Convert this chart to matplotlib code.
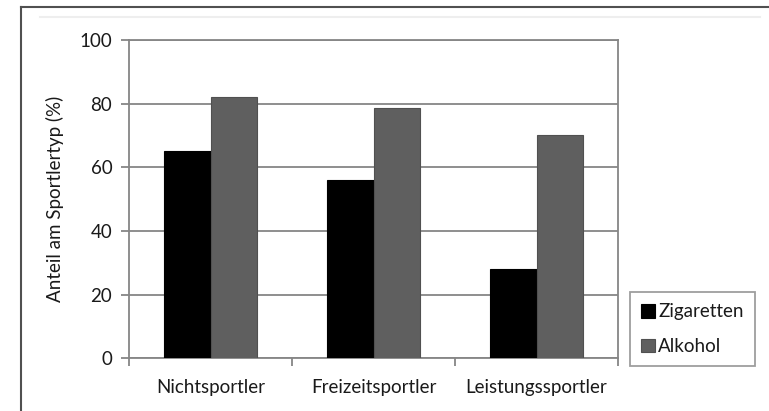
import matplotlib.pyplot as plt
import numpy as np
from matplotlib.lines import Line2D

categories = ["Nichtsportler", "Freizeitsportler", "Leistungssportler"]
zigaretten = [65, 56, 28]
alkohol = [82, 78.5, 70]
yticks = [0, 20, 40, 60, 80, 100]

plt.rcParams['font.family'] = ['Lato', 'DejaVu Sans']
grey = "#868686"
textc = "#1a1a1a"
fs = 13.5

fig = plt.figure(figsize=(7.69, 4.11), dpi=100)
ax = fig.add_axes([129/769, 1-358.3/411, (618-129)/769, (358.3-40)/411])

x = np.arange(len(categories))
w = 0.288
ax.bar(x - w/2, zigaretten, w, color="black", edgecolor="black", linewidth=0.8, label="Zigaretten", zorder=3)
ax.bar(x + w/2, alkohol, w, color="#5f5f5f", edgecolor="#505050", linewidth=0.8, label="Alkohol", zorder=3)

ax.set_xlim(-0.5, 2.5)
ax.set_ylim(0, 100)
ax.set_yticks(yticks)
ax.set_xticks(x)
ax.set_xticklabels(categories)
ax.set_xticks([-0.5, 0.5, 1.5, 2.5], minor=True)
ax.tick_params(axis='x', which='major', length=0, pad=15, labelsize=fs, labelcolor=textc)
ax.tick_params(axis='x', which='minor', length=6, width=1.3, color=grey, direction='out')
ax.tick_params(axis='y', length=6, width=1.3, color=grey, labelsize=fs, labelcolor=textc, pad=6)
ax.yaxis.grid(True, color=grey, linewidth=1.3, zorder=0)
for s in ax.spines.values():
    s.set_color(grey)
    s.set_linewidth(1.3)

ax.set_ylabel("Anteil am Sportlertyp (%)", fontsize=13.5, color=textc, labelpad=11)

leg = ax.legend(loc='upper left', bbox_to_anchor=(630/769, 1-292/411), bbox_transform=fig.transFigure,
                fontsize=fs, frameon=True, fancybox=False, edgecolor=grey, handlelength=0.75,
                handleheight=0.75, handletextpad=0.15, labelspacing=0.95, borderpad=0.6,
                borderaxespad=0)
leg.get_frame().set_linewidth(1.3)
for t in leg.get_texts():
    t.set_color(textc)

# outer frame
fig.add_artist(Line2D([21/769, 21/769], [0, 1-7/411], transform=fig.transFigure, color="#505050", lw=1.5))
fig.add_artist(Line2D([21/769, 1], [1-7/411, 1-7/411], transform=fig.transFigure, color="#505050", lw=1.5))
fig.add_artist(Line2D([40/769, 760/769], [1-17/411, 1-17/411], transform=fig.transFigure, color="#eeeeee", lw=1.5))

fig.savefig("out.png", dpi=100)
